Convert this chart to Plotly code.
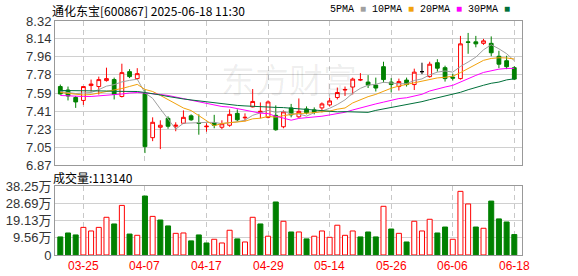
import plotly.graph_objects as go

# ---------------- data ----------------
dates = ["03-20", "03-21", "03-24", "03-25", "03-26", "03-27", "03-28", "03-31", "04-01", "04-02",
         "04-03", "04-07", "04-08", "04-09", "04-10", "04-11", "04-14", "04-15", "04-16", "04-17",
         "04-18", "04-21", "04-22", "04-23", "04-24", "04-25", "04-28", "04-29", "04-30", "05-06",
         "05-07", "05-08", "05-09", "05-12", "05-13", "05-14", "05-15", "05-16", "05-19", "05-20",
         "05-21", "05-22", "05-23", "05-26", "05-27", "05-28", "05-29", "05-30", "06-03", "06-04",
         "06-05", "06-06", "06-09", "06-10", "06-11", "06-12", "06-13", "06-16", "06-17", "06-18"]

opens = [7.66, 7.625, 7.55, 7.52, 7.67, 7.66, 7.72, 7.73, 7.56, 7.81,
         7.74, 7.59, 7.145, 7.25, 7.34, 7.26, 7.29, 7.365, 7.295, 7.255,
         7.295, 7.25, 7.27, 7.39, 7.345, 7.455, 7.40, 7.35, 7.37, 7.255,
         7.445, 7.355, 7.435, 7.425, 7.445, 7.475, 7.55, 7.625, 7.655, 7.725,
         7.705, 7.675, 7.86, 7.705, 7.66, 7.725, 7.68, 7.81, 7.76, 7.90,
         7.85, 7.755, 7.74, 8.11, 8.11, 8.095, 8.095, 7.965, 7.92, 7.85]
highs = [7.68, 7.66, 7.565, 7.66, 7.73, 7.76, 7.85, 7.75, 7.89, 7.835,
         7.845, 7.63, 7.35, 7.32, 7.36, 7.30, 7.42, 7.38, 7.38, 7.29,
         7.375, 7.32, 7.43, 7.43, 7.39, 7.635, 7.50, 7.52, 7.47, 7.42,
         7.485, 7.54, 7.46, 7.45, 7.50, 7.545, 7.65, 7.66, 7.75, 7.795,
         7.775, 7.75, 7.91, 7.745, 7.74, 7.75, 7.84, 7.90, 7.91, 7.935,
         7.87, 7.79, 8.17, 8.20, 8.17, 8.14, 8.165, 8.02, 7.97, 7.865]
lows = [7.58, 7.52, 7.445, 7.475, 7.61, 7.58, 7.71, 7.53, 7.55, 7.745,
        7.73, 6.99, 7.11, 7.03, 7.235, 7.21, 7.285, 7.315, 7.175, 7.205,
        7.24, 7.23, 7.255, 7.31, 7.31, 7.45, 7.34, 7.34, 7.215, 7.24,
        7.35, 7.345, 7.38, 7.38, 7.40, 7.46, 7.53, 7.565, 7.58, 7.715,
        7.645, 7.61, 7.70, 7.60, 7.62, 7.66, 7.625, 7.785, 7.75, 7.81,
        7.71, 7.72, 7.73, 7.99, 8.055, 8.08, 7.965, 7.845, 7.835, 7.725]
closes = [7.585, 7.565, 7.505, 7.66, 7.685, 7.73, 7.74, 7.58, 7.80, 7.76,
          7.79, 7.055, 7.30, 7.27, 7.26, 7.27, 7.35, 7.325, 7.29, 7.26,
          7.27, 7.285, 7.38, 7.325, 7.35, 7.51, 7.41, 7.505, 7.225, 7.405,
          7.375, 7.41, 7.395, 7.40, 7.485, 7.515, 7.60, 7.63, 7.735, 7.73,
          7.675, 7.645, 7.73, 7.68, 7.71, 7.68, 7.805, 7.81, 7.885, 7.845,
          7.74, 7.745, 8.09, 8.105, 8.09, 8.12, 8.00, 7.885, 7.86, 7.735]

ma5 = [7.61, 7.60, 7.59, 7.595, 7.600, 7.629, 7.664, 7.679, 7.707, 7.722,
       7.734, 7.597, 7.541, 7.435, 7.335, 7.231, 7.290, 7.295, 7.299, 7.299,
       7.299, 7.286, 7.297, 7.304, 7.322, 7.370, 7.395, 7.420, 7.400, 7.411,
       7.384, 7.384, 7.362, 7.397, 7.413, 7.441, 7.479, 7.526, 7.593, 7.642,
       7.674, 7.683, 7.703, 7.692, 7.688, 7.689, 7.721, 7.737, 7.778, 7.805,
       7.817, 7.805, 7.862, 7.907, 7.956, 8.030, 8.081, 8.040, 7.991, 7.920]
ma10 = [7.60, 7.59, 7.58, 7.575, 7.58, 7.595, 7.61, 7.62, 7.64, 7.661,
        7.682, 7.631, 7.61, 7.571, 7.529, 7.483, 7.444, 7.418, 7.367, 7.317,
        7.265, 7.288, 7.296, 7.302, 7.311, 7.335, 7.341, 7.359, 7.352, 7.367,
        7.377, 7.390, 7.391, 7.399, 7.412, 7.413, 7.432, 7.444, 7.495, 7.528,
        7.558, 7.581, 7.615, 7.643, 7.665, 7.682, 7.702, 7.720, 7.735, 7.747,
        7.753, 7.764, 7.800, 7.842, 7.880, 7.924, 7.943, 7.950, 7.948, 7.937]
ma20 = [7.57, 7.565, 7.56, 7.56, 7.56, 7.565, 7.57, 7.575, 7.585, 7.595,
        7.60, 7.595, 7.59, 7.58, 7.57, 7.555, 7.54, 7.525, 7.505, 7.489,
        7.473, 7.459, 7.453, 7.436, 7.42, 7.409, 7.392, 7.388, 7.36, 7.342,
        7.321, 7.339, 7.344, 7.35, 7.361, 7.374, 7.386, 7.401, 7.424, 7.447,
        7.467, 7.485, 7.503, 7.521, 7.539, 7.547, 7.566, 7.582, 7.615, 7.637,
        7.655, 7.672, 7.707, 7.742, 7.772, 7.802, 7.822, 7.835, 7.842, 7.843]
ma30 = [7.62, 7.62, 7.615, 7.615, 7.615, 7.615, 7.615, 7.612, 7.61, 7.61,
        7.61, 7.60, 7.59, 7.575, 7.56, 7.545, 7.535, 7.525, 7.515, 7.505,
        7.495, 7.485, 7.477, 7.47, 7.465, 7.46, 7.456, 7.452, 7.45, 7.448,
        7.441, 7.436, 7.432, 7.424, 7.417, 7.41, 7.405, 7.407, 7.405, 7.404,
        7.40, 7.42, 7.434, 7.448, 7.463, 7.476, 7.492, 7.508, 7.528, 7.547,
        7.563, 7.578, 7.602, 7.628, 7.653, 7.673, 7.693, 7.705, 7.727, 7.738]

volumes = [100000, 122000, 111000, 153000, 133000, 153000, 209000, 172000, 275000, 116000,
           109000, 327000, 214000, 194000, 161000, 120000, 122000, 78000, 111000, 66500,
           87000, 66500, 137000, 89000, 72000, 209000, 172000, 104000, 294000, 187000,
           127500, 127500, 89000, 104000, 133000, 98000, 165000, 109000, 133000, 100000,
           127500, 100000, 270000, 144000, 120000, 72000, 187000, 133000, 198000, 122000,
           155000, 87000, 353000, 283000, 155000, 148000, 299000, 200000, 183000, 113140]

price_ticks = [8.32, 8.14, 7.96, 7.78, 7.59, 7.41, 7.23, 7.05, 6.87]
vol_tick_vals = [0, 95625, 191250, 286875, 382500]
vol_tick_text = ["0", "9.56万", "19.13万", "28.69万", "38.25万"]
date_ticks = ["03-25", "04-07", "04-17", "04-29", "05-14", "05-26", "06-06", "06-18"]
ma_names = ["5PMA", "10PMA", "20PMA", "30PMA"]
title_text = "通化东宝[600867] 2025-06-18 11:30"
volume_label = "成交量:113140"
watermark = "东方财富"

# ---------------- styles ----------------
RED = "#ff0000"
GREEN = "#008000"
MA_COLORS = ["#a0a0a0", "#f2a20c", "#ff00ff", "#00703a"]
AXIS_LINE = "#999999"

n = len(dates)
up = [i for i in range(n) if closes[i] > opens[i]]
dn = [i for i in range(n) if closes[i] < opens[i]]
flat = [i for i in range(n) if closes[i] == opens[i]]


def sub(lst, idx):
    return [lst[i] for i in idx]


fig = go.Figure()

for idx, inc_col, inc_fill, dec_col, dec_fill in [
    (up, RED, "#ffffff", RED, "#ffffff"),
    (dn, GREEN, GREEN, GREEN, GREEN),
    (flat, "#000000", "#000000", "#000000", "#000000"),
]:
    if not idx:
        continue
    fig.add_trace(go.Candlestick(
        x=sub(dates, idx), open=sub(opens, idx), high=sub(highs, idx),
        low=sub(lows, idx), close=sub(closes, idx),
        increasing=dict(line=dict(color=inc_col, width=1), fillcolor=inc_fill),
        decreasing=dict(line=dict(color=dec_col, width=1), fillcolor=dec_fill),
        whiskerwidth=0, xaxis="x", yaxis="y", showlegend=False, hoverinfo="skip",
    ))

for vals, col in zip([ma5, ma10, ma20, ma30], MA_COLORS):
    fig.add_trace(go.Scatter(x=dates, y=vals, mode="lines", line=dict(color=col, width=1),
                             xaxis="x", yaxis="y", showlegend=False, hoverinfo="skip"))

vol_up = [closes[i] > (closes[i - 1] if i > 0 else opens[i]) for i in range(n)]
fig.add_trace(go.Bar(
    x=dates, y=volumes, xaxis="x2", yaxis="y2",
    marker=dict(color=["#ffffff" if u else GREEN for u in vol_up],
                line=dict(color=[RED if u else GREEN for u in vol_up], width=1)),
    showlegend=False, hoverinfo="skip",
))

tick_font = dict(family="Liberation Sans, Arial, Noto Sans CJK SC", size=13, color="#333333")
common_x = dict(type="category", categoryorder="array", categoryarray=dates,
                range=[-0.69, 60.0], tickvals=date_ticks, showgrid=True,
                gridcolor="#c8c8c8", griddash="5px,4px", gridwidth=1,
                showline=True, mirror=True, linecolor=AXIS_LINE, linewidth=1,
                zeroline=False, fixedrange=True, automargin=False, ticks="",
                showticklabels=False, rangeslider=dict(visible=False))

legend_text = " ".join(f"{nm} <span style='color:{c}'>■</span>" for nm, c in zip(ma_names, MA_COLORS))

annotations = [
    dict(text=title_text, xref="paper", yref="paper", x=-0.01, y=1.047,
         xanchor="left", yanchor="middle", showarrow=False,
         font=dict(family="Noto Sans CJK SC", size=12, color="#000000")),
    dict(text=legend_text, xref="paper", yref="paper", x=0.979, y=1.051,
         xanchor="right", yanchor="middle", showarrow=False,
         font=dict(family="Liberation Mono", size=10, color="#000000")),
    dict(text=volume_label, xref="paper", yref="paper", x=-0.008, y=0.333,
         xanchor="left", yanchor="middle", showarrow=False,
         font=dict(family="Noto Sans CJK SC", size=12, color="#000000")),
    dict(text=watermark, xref="paper", yref="paper", x=0.50, y=0.756,
         xanchor="center", yanchor="middle", showarrow=False,
         font=dict(family="Noto Sans CJK SC", size=34, color="rgba(0,0,0,0.07)")),
]
# date labels under the volume panel, positioned on the category axis
for d in date_ticks:
    annotations.append(dict(text=d, xref="x2", yref="paper", x=d, y=-0.008,
                            xanchor="center", yanchor="top", showarrow=False,
                            font=dict(family="Liberation Sans, Arial", size=12, color=RED)))

fig.update_layout(
    width=578, height=276,
    margin=dict(l=55, r=56, t=21, b=21, autoexpand=False),
    paper_bgcolor="white", plot_bgcolor="white",
    showlegend=False, bargap=0.35,
    xaxis=dict(domain=[0, 1], anchor="y", **common_x),
    xaxis2=dict(domain=[0, 1], anchor="y2", **common_x),
    yaxis=dict(domain=[0.38462, 1], anchor="x", range=[6.8699, 8.3201],
               tickvals=price_ticks, ticktext=[f"{v:.2f}" for v in price_ticks],
               showgrid=True, gridcolor="#d0d0d0", gridwidth=1,
               showline=True, mirror=True, linecolor=AXIS_LINE, linewidth=1,
               ticks="", zeroline=False, tickfont=tick_font, fixedrange=True,
               automargin=False),
    yaxis2=dict(domain=[0, 0.29487], anchor="x2", range=[-300, 382700],
                tickvals=vol_tick_vals, ticktext=vol_tick_text,
                showgrid=True, gridcolor="#d0d0d0", gridwidth=1,
                showline=True, mirror=True, linecolor=AXIS_LINE, linewidth=1,
                ticks="", zeroline=False, tickfont=tick_font, fixedrange=True,
                automargin=False),
    annotations=annotations,
)

fig.write_html("out.html", config={"displayModeBar": False, "staticPlot": True})
